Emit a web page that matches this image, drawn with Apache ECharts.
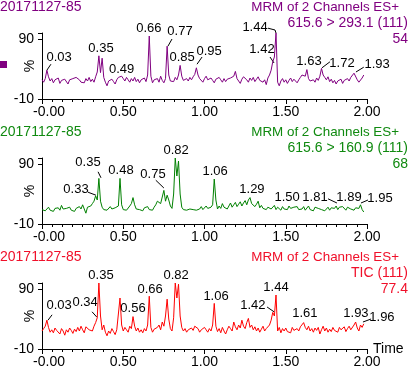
<!DOCTYPE html>
<html>
<head>
<meta charset="utf-8">
<script src="https://cdn.jsdelivr.net/npm/echarts@6/dist/echarts.min.js"></script>
<style>html,body{margin:0;padding:0;background:#fff}#c{width:410px;height:372px}</style>
</head>
<body>
<div id="c"></div>
<script>
// ---- data ----
const sampleStep = 0.01; // minutes between samples, starting at 0.00
const xTicks = ['-0.00', '0.50', '1.00', '1.50', '2.00'];
const yTicks = [-10, 90];

const purpleValues = [
  22,18,24,38,27,20,24,17,22,19,
  25,16,21,18,23,20,15,22,19,24,
  21,26,29,22,18,21,17,24,20,26,
  19,23,18,27,35,62,34,58,26,18,
  12,20,17,23,19,15,22,26,23,28,
  24,20,26,22,18,24,20,26,19,23,
  17,22,20,25,19,30,95,28,17,22,
  19,24,18,28,21,17,24,78,30,20,
  23,19,26,22,30,46,28,21,18,24,
  20,26,22,27,31,42,30,24,21,18,
  24,28,22,19,25,21,17,23,20,26,
  22,18,24,19,23,20,25,22,28,36,
  24,20,16,23,27,30,22,18,25,21,
  26,19,23,27,21,24,18,22,14,25,
  30,38,52,60,100,18,12,20,24,18,
  22,16,21,25,19,23,20,17,22,26,
  30,33,28,39,24,20,17,22,18,25,
  21,28,41,30,26,22,27,19,23,17,
  21,15,20,18,23,16,21,19,24,20,
  26,28,33,35,22,18,21,25,30
];
const greenValues = [
  14,16,12,15,18,13,15,11,16,14,
  17,13,21,15,12,16,14,18,13,15,
  11,16,14,19,15,22,25,8,18,16,
  20,24,28,37,30,66,28,18,14,17,
  13,16,19,15,12,17,15,20,66,22,
  14,17,13,16,20,24,34,22,15,18,
  14,16,12,17,15,19,14,16,13,18,
  22,28,30,24,35,46,28,38,30,20,
  16,40,100,70,95,40,18,14,17,13,
  16,15,18,14,17,13,16,15,19,14,
  17,20,16,14,18,22,65,30,15,20,
  16,24,18,21,15,20,25,18,22,26,
  19,23,27,20,25,29,22,30,34,24,
  26,19,23,28,17,21,16,19,14,18,
  20,15,17,21,14,18,16,13,19,15,
  17,14,20,16,13,18,15,19,14,17,
  15,19,13,16,20,14,17,12,18,15,
  16,19,14,17,12,15,18,13,17,20,
  16,20,14,18,15,19,16,13,18,20,
  15,18,13,17,20,16,22,14,10
];
const redValues = [
  20,24,28,38,26,18,22,17,25,21,
  19,15,24,20,13,22,18,25,21,16,
  23,19,26,20,28,22,17,27,30,22,
  25,20,28,34,42,100,45,22,30,18,
  12,20,16,24,19,14,22,25,75,30,
  20,26,22,18,28,24,44,28,20,25,
  18,22,17,24,20,30,78,26,18,23,
  20,26,30,22,35,28,45,73,40,24,
  20,42,100,75,98,45,26,20,24,18,
  22,19,25,21,28,30,24,18,22,20,
  26,22,18,24,20,30,66,28,19,24,
  17,26,20,15,22,28,24,20,35,27,
  22,30,25,38,28,24,34,41,26,30,
  22,27,20,25,18,23,28,20,24,26,
  30,38,51,45,80,20,26,17,24,20,
  25,19,22,17,26,21,18,24,20,27,
  30,34,26,22,28,20,24,18,25,21,
  26,15,22,28,20,25,18,23,19,26,
  21,24,18,26,22,20,27,19,24,28,
  22,25,30,35,25,20,30,26,32
];

// peak labels (text)
const purpleLabels = ['0.03','0.35','0.49','0.66','0.77','0.85','0.95','1.42','1.44','1.63','1.72','1.93'];
const greenLabels  = ['0.33','0.35','0.48','0.75','0.82','1.06','1.29','1.50','1.81','1.89','1.95'];
const redLabels    = ['0.03','0.34','0.35','0.56','0.66','0.82','1.06','1.42','1.44','1.61','1.93','1.96'];

const panelNames = ['20171127-85','20171127-85','20171127-85'];
const panelHeadLine = ['MRM of 2 Channels ES+','MRM of 2 Channels ES+','MRM of 2 Channels ES+'];
const panelHeaders = [
  '615.6 > 293.1 (111)\n54',
  '615.6 > 160.9 (111)\n68',
  'TIC (111)\n77.4'
];

// ---- annotation layout (label anchor in axis units, leader line points) ----
const purpleLabelAt = [[0.105,60],[0.363,75],[0.49,40],[0.658,108],[0.849,103],[0.862,60],[1.028,70],[1.354,72],[1.311,110],[1.643,52],[1.846,50],[2.062,47]];
const purpleLeaders = [[[0.03,38],[0.055,48]],null,null,null,[[0.775,78],[0.80,90]],null,[[0.954,48],[0.985,60]],[[1.428,50],[1.403,60]],[[1.44,100],[1.434,105],[1.391,108]],null,[[1.723,42],[1.772,52]],[[1.932,35],[1.98,43]]];
const greenLabelAt = [[0.209,48],[0.283,92],[0.486,80],[0.683,72],[0.825,113],[1.065,77],[1.292,48],[1.508,35],[1.68,35],[1.889,35],[2.08,33]];
const greenLeaders = [[[0.332,38],[0.283,43]],[[0.363,67],[0.345,77]],null,[[0.75,50],[0.70,63]],null,null,null,null,[[1.815,25],[1.76,32]],null,[[1.963,25],[2.006,30]]];
const redLabelAt = [[0.105,63],[0.265,67],[0.363,113],[0.56,58],[0.665,90],[0.825,113],[1.071,77],[1.298,62],[1.44,93],[1.618,50],[1.932,50],[2.092,42]];
const redLeaders = [[[0.037,38],[0.062,47]],[[0.338,43],[0.308,52]],null,null,null,null,null,[[1.428,52],[1.385,60]],null,null,null,[[1.975,35],[2.025,40]]];

// ---- styles ----
const FONT = '"Liberation Sans", Arial, sans-serif';
const colors = ['#800080', '#008000', '#ff0000'];
const textColors = ['#800080', '#108a10', '#f0102a'];
const panelTop = [33, 158, 283];
const panelH = 66;

const chart = echarts.init(document.getElementById('c'));

const series = [];
const grids = [], xAxes = [], yAxes = [];
const traces = [purpleValues, greenValues, redValues];
const labelTexts = [purpleLabels, greenLabels, redLabels];
const labelAts = [purpleLabelAt, greenLabelAt, redLabelAt];
const leaders = [purpleLeaders, greenLeaders, redLeaders];

for (let k = 0; k < 3; k++) {
  grids.push({ left: 42, top: panelTop[k], width: 325, height: panelH });
  xAxes.push({
    gridIndex: k, type: 'value', min: 0, max: 2, interval: 0.5,
    axisLine: { show: true, onZero: false, lineStyle: { color: '#000', width: 1 } },
    axisTick: { show: true, length: 5, lineStyle: { color: '#000' } },
    minorTick: { show: true, splitNumber: 8, length: 3, lineStyle: { color: '#000' } },
    splitLine: { show: false }, minorSplitLine: { show: false },
    axisLabel: {
      color: '#000', fontSize: 14, fontFamily: FONT, margin: 6,
      formatter: v => { const i = Math.round(v / 0.5); return i === 0 ? '{m|' + xTicks[0] + '}' : xTicks[i]; },
      rich: { m: { padding: [0, 0, 0, 14], fontSize: 14, fontFamily: FONT, color: '#000' } }
    },
    name: k === 2 ? 'Time' : '', nameLocation: 'end', nameGap: 6, nameMoveOverlap: false,
    nameTextStyle: { color: '#000', fontSize: 14, fontFamily: FONT, align: 'left', verticalAlign: 'middle' }
  });
  yAxes.push({
    gridIndex: k, type: 'value', min: -10, max: 100, interval: 100,
    axisLine: { show: true, onZero: false, lineStyle: { color: '#000', width: 1 } },
    axisTick: { show: true, length: 4, lineStyle: { color: '#000' } },
    splitLine: { show: false },
    axisLabel: {
      color: '#000', fontSize: 14, fontFamily: FONT, margin: 8,
      formatter: v => (yTicks.indexOf(v) >= 0 ? String(v) : '')
    },
    name: '%', nameLocation: 'middle', nameRotate: 90, nameGap: 5, nameMoveOverlap: false,
    nameTextStyle: { color: '#000', fontSize: 14, fontFamily: FONT }
  });
  series.push({
    type: 'line', xAxisIndex: k, yAxisIndex: k,
    data: traces[k].map((v, i) => [+(i * sampleStep).toFixed(2), v]),
    showSymbol: false, symbol: 'none', animation: false,
    lineStyle: { color: colors[k], width: 1 }, itemStyle: { color: colors[k] }
  });
  const texts = labelTexts[k], lds = leaders[k];
  series.push({
    type: 'custom', xAxisIndex: k, yAxisIndex: k, animation: false, silent: true,
    data: labelAts[k],
    renderItem: (params, api) => {
      const i = params.dataIndex;
      const c = api.coord([api.value(0), api.value(1)]);
      const children = [{
        type: 'text', x: c[0], y: c[1],
        style: { text: texts[i], fill: '#000', font: '13px ' + FONT, align: 'center', verticalAlign: 'middle' }
      }];
      if (lds[i]) {
        children.push({
          type: 'polyline',
          shape: { points: lds[i].map(p => api.coord(p)) },
          style: { stroke: '#000', lineWidth: 1, fill: null }
        });
      }
      return { type: 'group', children };
    }
  });
}

const graphics = [{ type: 'rect', shape: { x: 0, y: 61, width: 7, height: 7 }, style: { fill: '#800080' } }];
for (let k = 0; k < 3; k++) {
  graphics.push({
    type: 'text', x: 0, y: -1 + k * 125,
    style: { text: panelNames[k], fill: textColors[k], font: '14px ' + FONT, align: 'left', verticalAlign: 'top', lineHeight: 16 }
  });
  graphics.push({
    type: 'text', x: 399, y: -1 + k * 125,
    style: { text: panelHeadLine[k], fill: textColors[k], font: '13.4px ' + FONT, align: 'right', verticalAlign: 'top', lineHeight: 16 }
  });
  graphics.push({
    type: 'text', x: 408, y: 15 + k * 125,
    style: { text: panelHeaders[k], fill: textColors[k], font: '14px ' + FONT, align: 'right', verticalAlign: 'top', lineHeight: 16 }
  });
}

chart.setOption({
  animation: false,
  backgroundColor: '#fff',
  grid: grids, xAxis: xAxes, yAxis: yAxes,
  series: series,
  graphic: graphics
});
</script>
</body>
</html>
